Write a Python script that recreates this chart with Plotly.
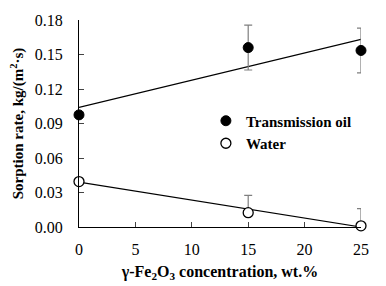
import plotly.graph_objects as go

conc = [0, 15, 25]
oil = [0.0975, 0.1560, 0.1535]
oil_err = [0.0, 0.0195, 0.0195]
water = [0.0395, 0.0125, 0.0010]
water_err = [0.0, 0.0150, 0.0150]
oil_fit_x = [0, 25]
oil_fit_y = [0.1040, 0.1632]
water_fit_x = [0, 25]
water_fit_y = [0.0390, 0.0000]
x_ticks = [0, 5, 10, 15, 20, 25]
y_ticks = [0.00, 0.03, 0.06, 0.09, 0.12, 0.15, 0.18]

font = "Times New Roman, Liberation Serif, DejaVu Serif, serif"

fig = go.Figure()
fig.add_trace(go.Scatter(x=oil_fit_x, y=oil_fit_y, mode="lines",
                         line=dict(color="black", width=1.2), showlegend=False, cliponaxis=False))
fig.add_trace(go.Scatter(x=water_fit_x, y=water_fit_y, mode="lines",
                         line=dict(color="black", width=1.2), showlegend=False, cliponaxis=False))
fig.add_trace(go.Scatter(x=conc, y=oil, mode="markers", name="Transmission oil",
                         marker=dict(symbol="circle", size=10, color="black",
                                     line=dict(color="black", width=1)),
                         error_y=dict(type="data", array=oil_err, color="#7f7f7f",
                                      thickness=1.2, width=4),
                         cliponaxis=False))
fig.add_trace(go.Scatter(x=conc, y=water, mode="markers", name="Water",
                         marker=dict(symbol="circle", size=10, color="white",
                                     line=dict(color="black", width=1.3)),
                         error_y=dict(type="data", array=water_err, arrayminus=[0, 0, 0],
                                      color="#7f7f7f", thickness=1.2, width=4),
                         cliponaxis=False))

fig.update_layout(
    width=378, height=278,
    margin=dict(l=71, r=25, t=12, b=59, autoexpand=False),
    paper_bgcolor="white", plot_bgcolor="white",
    font=dict(family=font, size=16, color="black"),
    legend=dict(x=0.45, y=0.459, xanchor="left", yanchor="middle",
                bgcolor="rgba(0,0,0,0)", font=dict(family=font, size=15, color="black", weight="bold"),
                itemwidth=30, tracegroupgap=0),
    xaxis=dict(range=[0, 25], tickvals=x_ticks, ticks="inside", ticklen=5,
               showline=True, linecolor="black", linewidth=1, showgrid=False, zeroline=False,
               automargin=False, tickfont=dict(family=font, size=16), ticklabelstandoff=8,
               title=dict(text="<b>γ-Fe<sub>2</sub>O<sub>3</sub> concentration, wt.%</b>",
                          font=dict(family=font, size=16), standoff=8)),
    yaxis=dict(range=[0, 0.18], tickvals=y_ticks, tickformat=".2f", ticks="inside", ticklen=5,
               showline=True, linecolor="black", linewidth=1, showgrid=False, zeroline=False,
               automargin=False, tickfont=dict(family=font, size=16), ticklabelstandoff=12,
               title=dict(text="<b>Sorption rate, kg/(m<sup>2</sup>·s)</b>",
                          font=dict(family=font, size=15), standoff=8)),
)

fig.write_html("out.html")
